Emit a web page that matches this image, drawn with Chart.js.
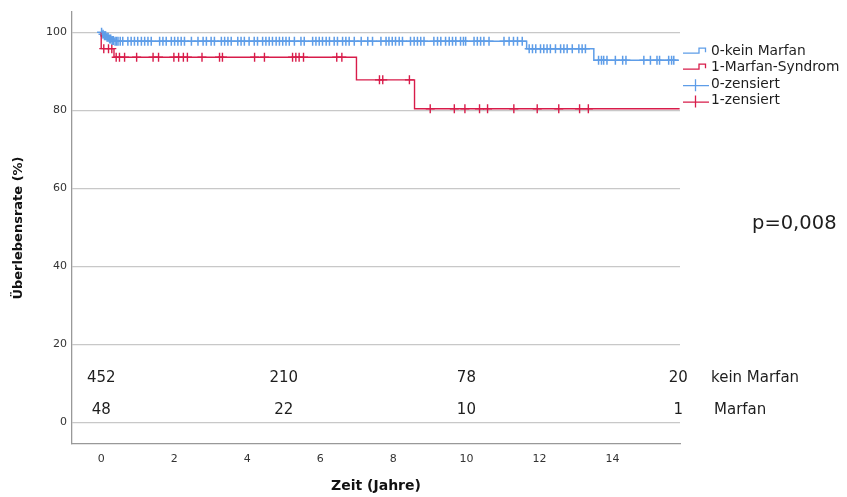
<!DOCTYPE html>
<html>
<head>
<meta charset="utf-8">
<script src="https://cdn.jsdelivr.net/npm/chart.js@4/dist/chart.umd.min.js"></script>
<style>
  html, body { margin: 0; padding: 0; background: #fff; }
</style>
</head>
<body>
<canvas id="km" width="847" height="497"></canvas>
<script>
// Kaplan-Meier steps (time in years, survival in %)
const keinMarfanTimes = [0, 0.03, 0.08, 0.14, 0.2, 0.27, 0.35, 11.65, 13.49, 15.82];
const keinMarfanSurv = [100, 99.5, 99.1, 98.7, 98.3, 97.9, 97.7, 95.8, 92.8, 92.8];
const marfanTimes = [0, 0, 0.35, 6.99, 8.58, 15.84];
const marfanSurv = [100, 95.8, 93.6, 87.8, 80.4, 80.4];

// censored observations (years)
const keinMarfanCensored = [
  0.01, 0.05, 0.09, 0.12, 0.16, 0.19, 0.23, 0.26, 0.3, 0.33, 0.38, 0.42, 0.46, 0.52,
  0.59, 0.73, 0.82, 0.91, 1.0, 1.1, 1.19, 1.28, 1.37, 1.6, 1.69, 1.78, 1.92, 2.01,
  2.1, 2.19, 2.28, 2.47, 2.65, 2.79, 2.88, 3.01, 3.1, 3.29, 3.38, 3.47, 3.56, 3.74,
  3.83, 3.92, 4.05, 4.19, 4.28, 4.42, 4.51, 4.6, 4.69, 4.79, 4.88, 4.97, 5.06, 5.15,
  5.29, 5.47, 5.56, 5.79, 5.88, 5.97, 6.06, 6.16, 6.25, 6.38, 6.47, 6.61, 6.7, 6.79,
  6.93, 7.12, 7.3, 7.43, 7.66, 7.8, 7.88, 7.97, 8.06, 8.16, 8.25, 8.47, 8.57, 8.66,
  8.75, 8.84, 9.11, 9.21, 9.3, 9.43, 9.53, 9.62, 9.71, 9.84, 9.92, 9.98, 10.21, 10.3,
  10.39, 10.48, 10.62, 11.03, 11.17, 11.29, 11.4, 11.53, 11.72, 11.81, 11.9, 12.03,
  12.12, 12.21, 12.3, 12.44, 12.58, 12.67, 12.76, 12.9, 13.08, 13.17, 13.26, 13.62,
  13.7, 13.76, 13.85, 14.08, 14.28, 14.37, 14.86, 15.04, 15.22, 15.29, 15.54, 15.62, 15.68
];
const marfanCensored = [
  0.07, 0.2, 0.29, 0.41, 0.5, 0.64, 0.97, 1.42, 1.57, 1.99, 2.12, 2.25, 2.36, 2.76,
  3.24, 3.32, 4.2, 4.47, 5.24, 5.33, 5.42, 5.54, 6.45, 6.59, 7.62, 7.71, 8.44,
  9.01, 9.67, 9.96, 10.36, 10.58, 11.3, 11.94, 12.53, 13.1, 13.34
];

// numbers at risk
const riskTimes = [0, 5, 10, 15.8];
const riskKeinMarfan = [452, 210, 78, 20];
const riskMarfan = [48, 22, 10, 1];
const riskGroups = ["kein Marfan", "Marfan"];

const xTicks = [0, 2, 4, 6, 8, 10, 12, 14];
const yTicks = [0, 20, 40, 60, 80, 100];
const legendLabels = ["0-kein Marfan", "1-Marfan-Syndrom", "0-zensiert", "1-zensiert"];
const pValue = "p=0,008";

const blue = "#5e9de8";
const red = "#d81c4a";

function levelAt(times, surv, t) {
  let v = surv[0];
  for (let i = 0; i < times.length; i++) {
    if (times[i] <= t) v = surv[i];
  }
  return v;
}

const stepPoints = (times, surv) => times.map((t, i) => ({ x: t, y: surv[i] }));
const censorPoints = (list, times, surv) =>
  list.map((t) => ({ x: t, y: levelAt(times, surv, t) }));

// texts: numbers at risk, p value and the legend
const extras = {
  id: "extras",
  afterDraw(chart) {
    const ctx = chart.ctx;
    const xs = chart.scales.x;
    const ys = chart.scales.y;
    ctx.save();
    ctx.fillStyle = "#1e1e1e";
    ctx.textBaseline = "middle";

    ctx.font = "15px 'DejaVu Sans'";
    ctx.textAlign = "center";
    const row1 = ys.getPixelForValue(11.3);
    const row2 = ys.getPixelForValue(3.0);
    riskTimes.forEach((t, i) => {
      ctx.fillText(String(riskKeinMarfan[i]), xs.getPixelForValue(t), row1);
      ctx.fillText(String(riskMarfan[i]), xs.getPixelForValue(t), row2);
    });
    ctx.textAlign = "left";
    ctx.fillText(riskGroups[0], 711, row1);
    ctx.fillText(riskGroups[1], 714, row2);

    ctx.font = "19.5px 'DejaVu Sans'";
    ctx.fillText(pValue, 752, 224);

    // legend
    const rows = [51.7, 67.7, 84.2, 100.6];
    const colors = [blue, red, blue, red];
    ctx.font = "13.8px 'DejaVu Sans'";
    ctx.lineWidth = 1.3;
    rows.forEach((y, i) => {
      ctx.strokeStyle = colors[i];
      ctx.beginPath();
      if (i < 2) {
        ctx.moveTo(683, y + 1.5);
        ctx.lineTo(699, y + 1.5);
        ctx.lineTo(699, y - 3.5);
        ctx.lineTo(705.5, y - 3.5);
        ctx.lineTo(705.5, y + 0.5);
      } else {
        ctx.moveTo(683, y + 1.5);
        ctx.lineTo(709, y + 1.5);
        ctx.moveTo(695.5, y - 5);
        ctx.lineTo(695.5, y + 7);
      }
      ctx.stroke();
      ctx.fillText(legendLabels[i], 711, y);
    });
    ctx.restore();
  }
};

new Chart(document.getElementById("km"), {
  type: "scatter",
  data: {
    datasets: [
      {
        label: legendLabels[0],
        type: "line",
        data: stepPoints(keinMarfanTimes, keinMarfanSurv),
        stepped: true,
        borderColor: blue,
        borderWidth: 1.5,
        pointRadius: 0,
        fill: false,
      },
      {
        label: legendLabels[1],
        type: "line",
        data: stepPoints(marfanTimes, marfanSurv),
        stepped: true,
        borderColor: red,
        borderWidth: 1.4,
        pointRadius: 0,
        fill: false,
      },
      {
        label: legendLabels[2],
        data: censorPoints(keinMarfanCensored, keinMarfanTimes, keinMarfanSurv),
        pointStyle: "cross",
        pointRadius: 4.5,
        borderColor: blue,
        borderWidth: 1.5,
      },
      {
        label: legendLabels[3],
        data: censorPoints(marfanCensored, marfanTimes, marfanSurv),
        pointStyle: "cross",
        pointRadius: 4.5,
        borderColor: red,
        borderWidth: 1.4,
      },
    ],
  },
  options: {
    responsive: false,
    animation: false,
    layout: { padding: { left: 0, right: 167, top: 12, bottom: 0 } },
    plugins: {
      legend: { display: false },
      tooltip: { enabled: false },
    },
    scales: {
      x: {
        type: "linear",
        min: -0.8,
        max: 15.85,
        afterBuildTicks: (scale) => {
          scale.ticks = xTicks.map((v) => ({ value: v }));
        },
        afterFit: (scale) => {
          scale.height = 53;
        },
        grid: { display: false, drawTicks: false },
        border: { display: true, color: "#999999", width: 1.3 },
        ticks: {
          padding: 9,
          color: "#333",
          font: { family: "DejaVu Sans", size: 11 },
        },
        title: {
          display: true,
          text: "Zeit (Jahre)",
          color: "#111",
          font: { family: "DejaVu Sans", size: 14, weight: "bold" },
          padding: { bottom: 2, top: 0 },
        },
      },
      y: {
        type: "linear",
        min: -5.6,
        max: 105.2,
        afterBuildTicks: (scale) => {
          scale.ticks = yTicks.map((v) => ({ value: v }));
        },
        afterFit: (scale) => {
          scale.width = 72;
        },
        grid: { color: "#c8c8c8", lineWidth: 1.2, drawTicks: false },
        border: { display: true, color: "#999999", width: 1.3 },
        ticks: {
          padding: 5,
          color: "#333",
          font: { family: "DejaVu Sans", size: 11 },
        },
        title: {
          display: true,
          text: "Überlebensrate (%)",
          color: "#111",
          font: { family: "DejaVu Sans", size: 13, weight: "bold" },
          padding: { top: 11, bottom: 0 },
        },
      },
    },
  },
  plugins: [extras],
});
</script>
</body>
</html>
